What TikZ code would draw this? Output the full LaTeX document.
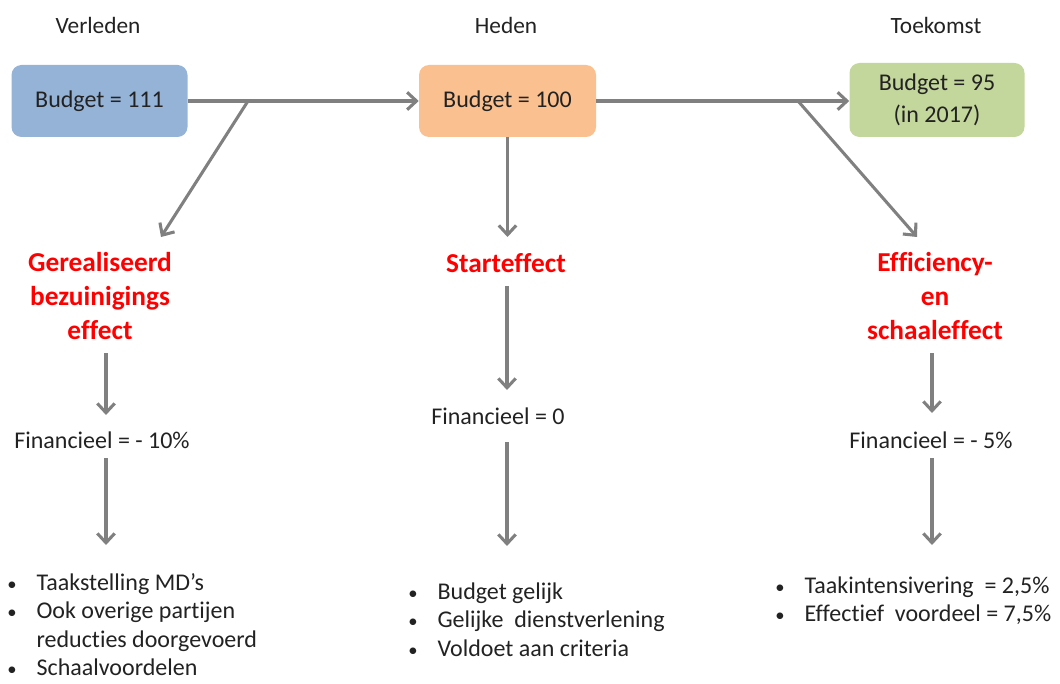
\documentclass[tikz,border=0pt]{standalone}
\usepackage{fontspec}
\setmainfont{Carlito}[Ligatures=NoCommon]
\usetikzlibrary{arrows.meta}
\definecolor{boxblue}{HTML}{95B3D7}
\definecolor{boxorange}{HTML}{FAC090}
\definecolor{boxgreen}{HTML}{C3D69B}
\definecolor{arrowgray}{HTML}{808080}
\definecolor{txt}{HTML}{222222}
\definecolor{hred}{HTML}{FF0000}
\tikzset{
  hdr/.style={font=\fontsize{17.5}{21}\selectfont, text=txt, inner sep=0pt},
  budget/.style={rounded corners=7.5pt, inner sep=0pt, font=\fontsize{18}{24}\selectfont, text=txt, align=center},
  effect/.style={font=\fontsize{20.5}{25.5}\selectfont\bfseries, text=hred, align=center, inner sep=0pt},
  fin/.style={font=\fontsize{18}{21.4}\selectfont, text=txt, inner sep=0pt},
  blist/.style={font=\fontsize{18}{21.4}\selectfont, text=txt, inner sep=0pt, anchor=north west, align=left},
  arr/.style={draw=arrowgray, line width=2.3pt, -{Straight Barb[length=7pt,width=13pt,line width=2.3pt]}},
  ln/.style={draw=arrowgray, line width=2.3pt}
}
\newcommand{\bul}{\makebox[22pt][l]{\fontsize{14}{21.4}\selectfont\textbullet}}
\begin{document}
\begin{tikzpicture}[x=0.75pt,y=-0.75pt]
\path[use as bounding box] (0,0) rectangle (1060,684);

% headers
\node[hdr] (hv) at (98,25) {Verleden};
\node[hdr] (hh) at (506,25) {Heden};
\node[hdr] (ht) at (936,25) {Toekomst};

% budget boxes
\node[budget, fill=boxblue, minimum width=176*0.75pt, minimum height=72*0.75pt] (b1) at (99.5,101) {Budget = 111};
\node[budget, fill=boxorange, minimum width=177*0.75pt, minimum height=72*0.75pt] (b2) at (507.5,101) {Budget = 100};
\node[budget, fill=boxgreen, minimum width=175*0.75pt, minimum height=74*0.75pt] (b3) at (937,100) {Budget = 95\\(in 2017)};

% effect headings
\node[effect] (e1) at (100,296) {Gerealiseerd\\bezuinigings\\effect};
\node[effect] (e2) at (506,263) {Starteffect};
\node[effect] (e3) at (935,296) {Efficiency-\\en\\schaaleffect};

% financial
\node[fin] (f1) at (102,440) {Financieel = - 10\%};
\node[fin] (f2) at (498,416) {Financieel = 0};
\node[fin] (f3) at (931,440) {Financieel = - 5\%};

% lists
\node[blist] (l1) at (7,570) {\begin{tabular}{@{}l@{}l@{}}
\bul & Taakstelling MD’s\\
\bul & Ook overige partijen\\
 & reducties doorgevoerd\\
\bul & Schaalvoordelen
\end{tabular}};
\node[blist] (l2) at (408,579) {\begin{tabular}{@{}l@{}l@{}}
\bul & Budget gelijk\\
\bul & Gelijke\ \ dienstverlening\\
\bul & Voldoet aan criteria
\end{tabular}};
\node[blist] (l3) at (775,573) {\begin{tabular}{@{}l@{}l@{}}
\bul & Taakintensivering\ \ = 2,5\%\\
\bul & Effectief\ \ voordeel = 7,5\%
\end{tabular}};

% coordinates
\coordinate (c1) at (248,101);
\coordinate (t1) at (161,237);
\coordinate (c2) at (798,101);
\coordinate (t2) at (917,237);
\coordinate (t3) at (507.5,237);
\coordinate (v1a) at (106,353);
\coordinate (v1b) at (106,415);
\coordinate (v1c) at (106,458);
\coordinate (v1d) at (106,545);
\coordinate (v2a) at (507,286);
\coordinate (v2b) at (507,390);
\coordinate (v2c) at (507,442);
\coordinate (v2d) at (507,546);
\coordinate (v3a) at (932,353);
\coordinate (v3b) at (932,413);
\coordinate (v3c) at (932,458);
\coordinate (v3d) at (932,545);

% connectors
\draw[arr] (b1.east) -- (b2.west);
\draw[arr] (c1) -- (t1);
\draw[arr] (b2.east) -- (b3.west |- b2.east);
\draw[arr] (c2) -- (t2);
\draw[arr] (b2.south) -- (t3);
\draw[arr] (v1a) -- (v1b);
\draw[arr] (v1c) -- (v1d);
\draw[arr] (v2a) -- (v2b);
\draw[arr] (v2c) -- (v2d);
\draw[arr] (v3a) -- (v3b);
\draw[arr] (v3c) -- (v3d);
\end{tikzpicture}
\end{document}
